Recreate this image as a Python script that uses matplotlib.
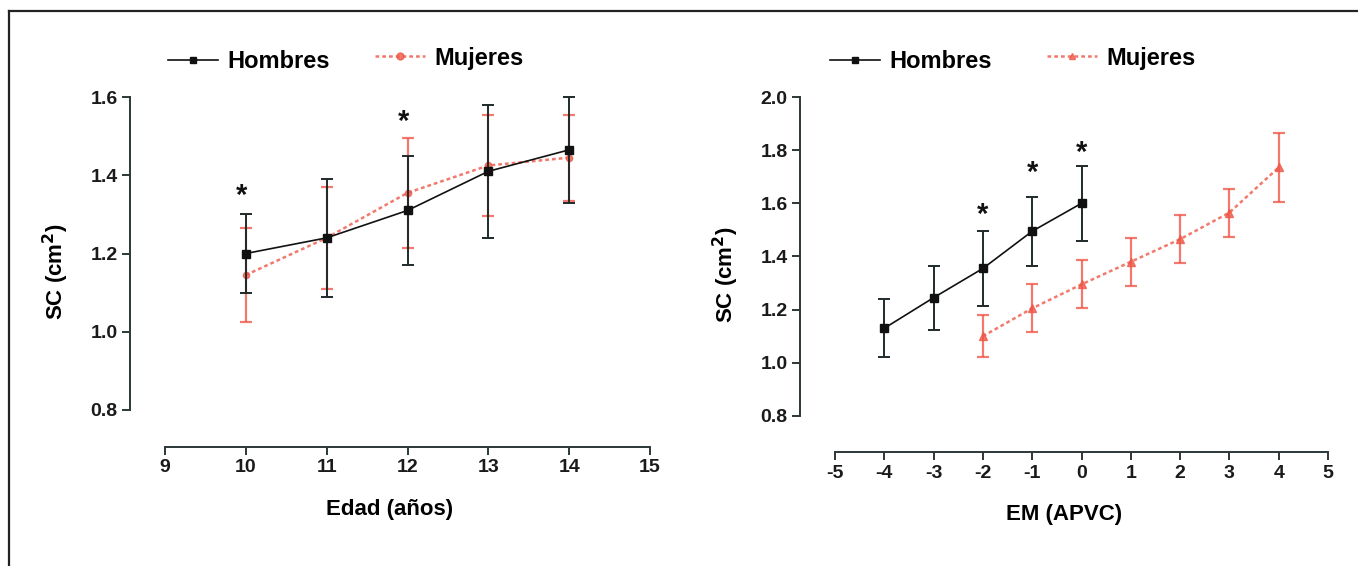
import matplotlib

matplotlib.use("Agg")
import matplotlib.pyplot as plt
from matplotlib.lines import Line2D

plt.rcParams["font.family"] = ["Liberation Sans", "DejaVu Sans"]
plt.rcParams["font.weight"] = "bold"
plt.rcParams["axes.unicode_minus"] = False

# panel A: SC by age
edad = [10, 11, 12, 13, 14]
sc_h_edad = [1.20, 1.24, 1.31, 1.41, 1.465]
err_h_edad = [0.10, 0.15, 0.14, 0.17, 0.135]
sc_m_edad = [1.145, 1.24, 1.355, 1.425, 1.445]
err_m_edad = [0.12, 0.13, 0.14, 0.13, 0.11]
star_edad = [10, 12]
star_edad_y = [1.347, 1.536]

# panel B: SC by maturity offset (APVC)
em_h = [-4, -3, -2, -1, 0]
sc_h_em = [1.13, 1.245, 1.355, 1.495, 1.60]
err_h_em = [0.11, 0.12, 0.14, 0.13, 0.14]
em_m = [-2, -1, 0, 1, 2, 3, 4]
sc_m_em = [1.10, 1.205, 1.295, 1.38, 1.465, 1.565, 1.735]
err_m_em = [0.08, 0.09, 0.09, 0.09, 0.09, 0.09, 0.13]
star_em = [-2, -1, 0]
star_em_y = [1.556, 1.714, 1.789]

BLACK = "#111111"
RED = "#ee5848"
AXC = "#2c3838"
W, H = 1358, 566

fig = plt.figure(figsize=(W / 100, H / 100), dpi=100)

# frame around the figure (only top and left edges visible)
fig.add_artist(Line2D([9 / W, 9 / W], [0, 1 - 11 / H], color="#222222", lw=1.6))
fig.add_artist(Line2D([9 / W, 1], [1 - 11 / H, 1 - 11 / H], color="#222222", lw=1.6))


def add_panel(px_left, px_right, px_top, px_bot, xlim, ylim):
    ax = fig.add_axes([px_left / W, 1 - px_bot / H,
                       (px_right - px_left) / W, (px_bot - px_top) / H])
    ax.set_xlim(*xlim)
    ax.set_ylim(*ylim)
    for s in ("top", "right"):
        ax.spines[s].set_visible(False)
    for s in ("left", "bottom"):
        ax.spines[s].set_color(AXC)
        ax.spines[s].set_linewidth(1.4)
    ax.tick_params(colors=AXC, width=1.4, length=6, labelsize=14, pad=3)
    return ax


def draw(ax, xh, yh, eh, xm, ym, em, mmark, msize):
    ax.errorbar(xm, ym, yerr=em, color=RED, ecolor=RED, elinewidth=1.6,
                capsize=4, capthick=1.6, lw=1.8, ls=(0, (1.5, 1.2)),
                marker=mmark, ms=msize, alpha=0.8, clip_on=False, zorder=2)
    ax.errorbar(xh, yh, yerr=eh, color=BLACK, ecolor="#1f2a2a", elinewidth=1.4,
                capsize=4, capthick=1.4, lw=1.2, marker="s", ms=6,
                clip_on=False, zorder=3)


def legend_handles(mmark):
    h = Line2D([], [], color=BLACK, lw=1.2, marker="s", ms=5)
    m = Line2D([], [], color=RED, lw=1.8, ls=(0, (1.5, 1.2)), marker=mmark, ms=5, alpha=0.8)
    return h, m


def finish(ax):
    for lab in ax.get_xticklabels() + ax.get_yticklabels():
        lab.set_color("#1a1a1a")


# ---- left panel
ax1 = add_panel(130, 650, 97, 447,
                (15 - 520 / 80.83, 15), (1.6 - 350 / 391.25, 1.6))
draw(ax1, edad, sc_h_edad, err_h_edad, edad, sc_m_edad, err_m_edad, "o", 4.5)
ax1.set_xticks(range(9, 16))
ax1.set_yticks([0.8, 1.0, 1.2, 1.4, 1.6])
ax1.set_yticklabels(["0.8", "1.0", "1.2", "1.4", "1.6"])
ax1.spines["left"].set_bounds(0.8, 1.6)
ax1.spines["bottom"].set_bounds(9, 15)
ax1.set_xlabel("Edad (años)", fontsize=16, fontweight="bold", labelpad=16)
ax1.set_ylabel("SC (cm$^\\mathbf{2}$)", fontsize=16, fontweight="bold", labelpad=14)
for x, y in zip(star_edad, star_edad_y):
    ax1.text(x - 0.05, y, "*", fontsize=21, ha="center", va="center", color=BLACK)
finish(ax1)

# ---- right panel
ax2 = add_panel(800, 1328, 97, 452,
                (5 - 528 / 49.3, 5), (2.0 - 355 / 265.8, 2.0))
draw(ax2, em_h, sc_h_em, err_h_em, em_m, sc_m_em, err_m_em, "^", 5.5)
ax2.set_xticks(range(-5, 6))
ax2.set_yticks([0.8, 1.0, 1.2, 1.4, 1.6, 1.8, 2.0])
ax2.set_yticklabels(["0.8", "1.0", "1.2", "1.4", "1.6", "1.8", "2.0"])
ax2.spines["left"].set_bounds(0.8, 2.0)
ax2.spines["bottom"].set_bounds(-5, 5)
ax2.set_xlabel("EM (APVC)", fontsize=16, fontweight="bold", labelpad=16)
ax2.set_ylabel("SC (cm$^\\mathbf{2}$)", fontsize=16, fontweight="bold", labelpad=14)
for x, y in zip(star_em, star_em_y):
    ax2.text(x, y, "*", fontsize=21, ha="center", va="center", color=BLACK)
finish(ax2)

# ---- legends (two separate entries per panel, slightly offset like the original)
for mmark, hpos, mpos in (("o", (168, 62), (375, 58)),
                          ("^", (830, 62), (1047, 58))):
    h, m = legend_handles(mmark)
    for handle, label, pos in ((h, "Hombres", hpos), (m, "Mujeres", mpos)):
        fig.legend(handles=[handle], labels=[label], loc="center left",
                   bbox_to_anchor=(pos[0] / W, 1 - pos[1] / H),
                   frameon=False, borderpad=0, borderaxespad=0,
                   handlelength=2.1, handletextpad=0.4,
                   prop={"size": 17, "weight": "bold"})

fig.savefig("out.png", dpi=100)
